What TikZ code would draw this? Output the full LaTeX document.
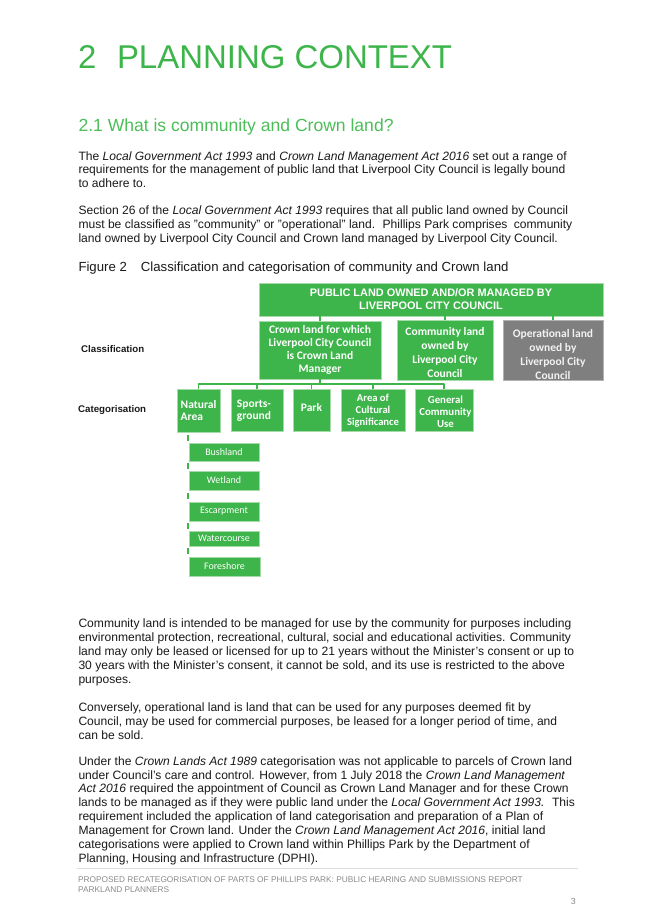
\documentclass[tikz,border=0pt]{standalone}
\usepackage{fontspec}
\setmainfont{Liberation Sans}
\newfontfamily\boxfont{Carlito}
\definecolor{pgreen}{HTML}{3DB54A}
\definecolor{tgreen}{HTML}{3DB54A}
\definecolor{hgreen}{HTML}{4CBE58}
\definecolor{bordg}{HTML}{A5DBA9}
\definecolor{pgray}{HTML}{7F7F7F}
\definecolor{foot}{HTML}{8A8A8A}
\definecolor{btext}{HTML}{1A1A1A}
\newcommand{\fs}[1]{\fontsize{#1}{#1}\selectfont}
\newcommand{\fsl}[2]{\fontsize{#1}{#2}\selectfont}
\newcommand{\bx}[6]{\node[#6,minimum width=#4pt-#2pt,minimum height=#5pt-#3pt] (#1) at ({(#2+#4)/2},{-(#3+#5)/2}) {};}
\tikzset{x=1pt,y=1pt,
  bodyline/.style={anchor=base west,inner sep=0pt,text=btext,font=\fs{12.08}},
  gbox/.style={draw=bordg,line width=0.6pt,fill=pgreen,inner sep=0pt},
  graybox/.style={draw=gray!60,line width=0.6pt,fill=pgray,inner sep=0pt},
  boxlabel/.style={text=white,align=center,inner sep=0pt,font=\boxfont\bfseries\fsl{11.5}{13}},
  sublabel/.style={text=white,align=center,inner sep=0pt,font=\boxfont\fs{10}},
  rowlabel/.style={anchor=base west,inner sep=0pt,text=btext,font=\bfseries\fs{9.7}},
  conn/.style={draw=pgreen,line width=1.6pt},
  subconn/.style={draw=pgreen,line width=2pt},
  footline/.style={anchor=base west,inner sep=0pt,text=foot,font=\fs{8.29}}}
\begin{document}
\begin{tikzpicture}
\useasboundingbox (0,0) rectangle (653,-924);
\fill[white] (0,0) rectangle (653,-924);
\node[anchor=base west,inner sep=0pt,text=tgreen,font=\fs{32.95}] (title) at (78,-68.5) {2\hspace{20.5pt}PLANNING CONTEXT};
\node[anchor=base west,inner sep=0pt,text=hgreen,font=\fs{17.55}] (head) at (78.3,-131.7) {2.1 What is community and Crown land?};
\node[bodyline] (a1) at (78.3,-160) {The \textit{Local Government Act 1993} and \textit{Crown Land Management Act 2016} set out a range of};
\node[bodyline] (a2) at (78.3,-173.8) {requirements for the management of public land that Liverpool City Council is legally bound};
\node[bodyline] (a3) at (78.3,-187.7) {to adhere to.};
\node[bodyline] (b1) at (78.3,-214.6) {Section 26 of the \textit{Local Government Act 1993} requires that all public land owned by Council};
\node[bodyline] (b2) at (78.3,-228.4) {must be classified as "community" or "operational" land.\hspace{3pt} Phillips Park comprises\hspace{3pt} community};
\node[bodyline] (b3) at (78.3,-242.3) {land owned by Liverpool City Council and Crown land managed by Liverpool City Council.};
\node[bodyline,font=\fs{13.2}] (fig) at (78.3,-271) {Figure 2\hspace{14pt}Classification and categorisation of community and Crown land};
% boxes
\bx{top}{259}{283}{603}{316}{gbox}
\bx{crown}{259}{321}{381}{379}{gbox}
\bx{comm}{397}{320}{493}{380}{gbox}
\bx{oper}{503}{320}{603}{380}{graybox}
\bx{nat}{177}{389}{220}{432}{gbox}
\bx{spo}{231}{389}{283}{431}{gbox}
\bx{park}{293}{389}{330}{431}{gbox}
\bx{area}{341}{389}{405}{431}{gbox}
\bx{gen}{415}{389}{473}{431}{gbox}
\bx{bush}{189}{443}{259}{461}{gbox}
\bx{wet}{189}{471}{259}{490}{gbox}
\bx{esc}{189}{502}{259}{521}{gbox}
\bx{wat}{189}{531}{259}{546}{gbox}
\bx{fore}{189}{557}{260}{576}{gbox}
% connectors
\coordinate (bus) at (0,-384);
\coordinate (subx) at (187.5,0);
\draw[conn] (top.south -| crown.south) -- (crown.north);
\draw[conn] (top.south -| comm.north) -- (comm.north);
\draw[conn] (top.south -| oper.north) -- (oper.north);
\draw[conn] (crown.south) -- (bus -| crown.south);
\draw[conn,line cap=round] (bus -| nat.north) -- (bus -| gen.north);
\foreach \n in {nat,spo,park,area,gen} \draw[conn] (bus -| \n.north) -- (\n.north);
\draw[subconn] (subx |- nat.south) ++(0,-3) -- ++(0,-6);
\draw[subconn] (subx |- bush.south) ++(0,-2) -- ++(0,-6);
\draw[subconn] (subx |- wet.south) ++(0,-3) -- ++(0,-6);
\draw[subconn] (subx |- esc.south) ++(0,-2) -- ++(0,-6);
\draw[subconn] (subx |- wat.south) ++(0,-2) -- ++(0,-6);
% box labels
\node[boxlabel,font=\bfseries\fsl{10.9}{13}] (topt) at (top) {PUBLIC LAND OWNED AND/OR MANAGED BY\\LIVERPOOL CITY COUNCIL};
\node[boxlabel] (crownt) at (crown) {Crown land for which\\Liverpool City Council\\is Crown Land\\Manager};
\node[boxlabel,font=\boxfont\bfseries\fsl{11.5}{14}] (commt) at ([yshift=-3pt]comm) {Community land\\owned by\\Liverpool City\\Council};
\node[boxlabel,text=white!90!gray,font=\boxfont\bfseries\fsl{11.5}{14}] (opert) at ([yshift=-4pt]oper) {Operational land\\owned by\\Liverpool City\\Council};
\node[boxlabel,align=left,font=\boxfont\bfseries\fsl{11.5}{12}] (natt) at (nat) {Natural\\Area};
\node[boxlabel,align=left,font=\boxfont\bfseries\fsl{11.5}{12}] (spot) at ([shift={(-3pt,-1pt)}]spo) {Sports-\\ground};
\node[boxlabel] (parkt) at ([yshift=2pt]park) {Park};
\node[boxlabel,font=\boxfont\bfseries\fsl{10.6}{12}] (areat) at ([yshift=-1pt]area) {Area of\\Cultural\\Significance};
\node[boxlabel,font=\boxfont\bfseries\fsl{10.8}{12}] (gent) at ([shift={(1.5pt,-1.5pt)}]gen) {General\\Community\\Use};
\node[sublabel] (busht) at (bush) {Bushland};
\node[sublabel] (wett) at (wet) {Wetland};
\node[sublabel] (esct) at (esc) {Escarpment};
\node[sublabel] (watt) at (wat) {Watercourse};
\node[sublabel] (foret) at (fore) {Foreshore};
\node[rowlabel] (cl) at (81,-352.7) {Classification};
\node[rowlabel] (ca) at (78,-412) {Categorisation};
% lower text
\node[bodyline] (c1) at (78.3,-627.8) {Community land is intended to be managed for use by the community for purposes including};
\node[bodyline] (c2) at (78.3,-641.7) {environmental protection, recreational, cultural, social and educational activities. Community};
\node[bodyline] (c3) at (78.3,-655.7) {land may only be leased or licensed for up to 21 years without the Minister’s consent or up to};
\node[bodyline] (c4) at (78.3,-669.7) {30 years with the Minister’s consent, it cannot be sold, and its use is restricted to the above};
\node[bodyline] (c5) at (78.3,-683.4) {purposes.};
\node[bodyline] (d1) at (78.3,-711) {Conversely, operational land is land that can be used for any purposes deemed fit by};
\node[bodyline] (d2) at (78.3,-725) {Council, may be used for commercial purposes, be leased for a longer period of time, and};
\node[bodyline] (d3) at (78.3,-739) {can be sold.};
\node[bodyline] (e1) at (78.3,-765) {Under the \textit{Crown Lands Act 1989} categorisation was not applicable to parcels of Crown land};
\node[bodyline] (e2) at (78.3,-779) {under Council’s care and control. However, from 1 July 2018 the \textit{Crown Land Management}};
\node[bodyline] (e3) at (78.3,-792.8) {\textit{Act 2016} required the appointment of Council as Crown Land Manager and for these Crown};
\node[bodyline] (e4) at (78.3,-806.7) {lands to be managed as if they were public land under the \textit{Local Government Act 1993.}\hspace{3pt} This};
\node[bodyline] (e5) at (78.3,-820.6) {requirement included the application of land categorisation and preparation of a Plan of};
\node[bodyline] (e6) at (78.3,-834.4) {Management for Crown land. Under the \textit{Crown Land Management Act 2016}, initial land};
\node[bodyline] (e7) at (78.3,-848.3) {categorisations were applied to Crown land within Phillips Park by the Department of};
\node[bodyline] (e8) at (78.3,-862) {Planning, Housing and Infrastructure (DPHI).};
\draw[gray!25,line width=0.8pt] (77,-868) -- (578,-868);
\node[footline] (f1) at (78,-882) {PROPOSED RECATEGORISATION OF PARTS OF PHILLIPS PARK: PUBLIC HEARING AND SUBMISSIONS REPORT};
\node[footline] (f2) at (78,-892.8) {PARKLAND PLANNERS};
\node[anchor=base east,inner sep=0pt,text=foot,font=\fs{8.8}] (pg) at (576,-904) {3};
\end{tikzpicture}
\end{document}
